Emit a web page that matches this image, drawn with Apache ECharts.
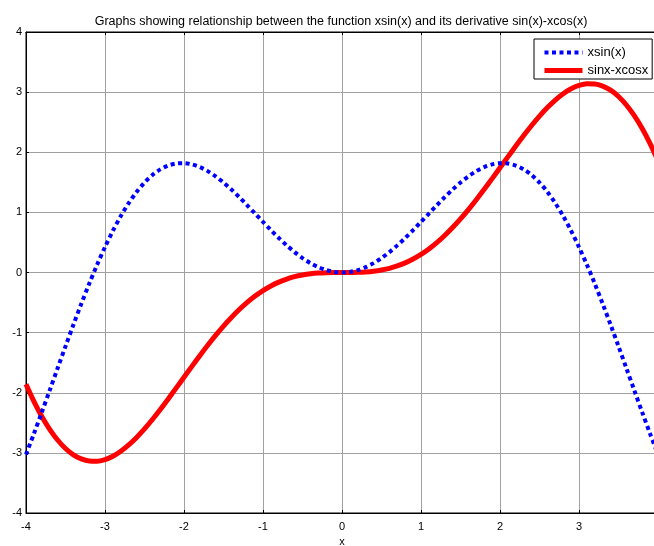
<!DOCTYPE html>
<html>
<head>
<meta charset="utf-8">
<script src="https://cdn.jsdelivr.net/npm/echarts@6/dist/echarts.min.js"></script>
<style>
html,body{margin:0;padding:0;background:#fff;}
#chart{width:654px;height:546px;}
</style>
</head>
<body>
<div id="chart"></div>
<script>
var titleText = 'Graphs showing relationship between the function xsin(x) and its derivative sin(x)-xcos(x)';
var seriesNames = ['xsin(x)', 'sinx-xcosx'];
var xTicks = [-4, -3, -2, -1, 0, 1, 2, 3];
var yTicks = [-4, -3, -2, -1, 0, 1, 2, 3, 4];

var xValues = [
  -4.0, -3.9, -3.8, -3.7, -3.6, -3.5, -3.4, -3.3, -3.2, -3.1,
  -3.0, -2.9, -2.8, -2.7, -2.6, -2.5, -2.4, -2.3, -2.2, -2.1,
  -2.0, -1.9, -1.8, -1.7, -1.6, -1.5, -1.4, -1.3, -1.2, -1.1,
  -1.0, -0.9, -0.8, -0.7, -0.6, -0.5, -0.4, -0.3, -0.2, -0.1,
   0.0,
   0.1,  0.2,  0.3,  0.4,  0.5,  0.6,  0.7,  0.8,  0.9,  1.0,
   1.1,  1.2,  1.3,  1.4,  1.5,  1.6,  1.7,  1.8,  1.9,  2.0,
   2.1,  2.2,  2.3,  2.4,  2.5,  2.6,  2.7,  2.8,  2.9,  3.0,
   3.1,  3.2,  3.3,  3.4,  3.5,  3.6,  3.7,  3.8,  3.9,  4.0
];
var xsinValues = [
  -3.027, -2.682, -2.325, -1.960, -1.593, -1.228, -0.869, -0.521, -0.187, 0.129,
   0.423,  0.694,  0.938,  1.154,  1.340,  1.496,  1.621,  1.715,  1.779, 1.813,
   1.819,  1.798,  1.753,  1.686,  1.599,  1.496,  1.380,  1.253,  1.118, 0.980,
   0.842,  0.705,  0.574,  0.451,  0.339,  0.240,  0.156,  0.089,  0.040, 0.010,
   0.000,
   0.010,  0.040,  0.089,  0.156,  0.240,  0.339,  0.451,  0.574,  0.705, 0.842,
   0.980,  1.118,  1.253,  1.380,  1.496,  1.599,  1.686,  1.753,  1.798, 1.819,
   1.813,  1.779,  1.715,  1.621,  1.496,  1.340,  1.154,  0.938,  0.694, 0.423,
   0.129, -0.187, -0.521, -0.869, -1.228, -1.593, -1.960, -2.325, -2.682, -3.027
];
var derivValues = [
  -1.858, -2.143, -2.394, -2.608, -2.786, -2.927, -3.032, -3.101, -3.136, -3.139,
  -3.111, -3.055, -2.973, -2.868, -2.743, -2.601, -2.445, -2.278, -2.103, -1.923,
  -1.742, -1.561, -1.383, -1.211, -1.046, -0.891, -0.748, -0.616, -0.497, -0.392,
  -0.301, -0.224, -0.160, -0.109, -0.069, -0.041, -0.021, -0.009, -0.003, -0.000,
   0.000,
   0.000,  0.003,  0.009,  0.021,  0.041,  0.069,  0.109,  0.160,  0.224,  0.301,
   0.392,  0.497,  0.616,  0.748,  0.891,  1.046,  1.211,  1.383,  1.561,  1.742,
   1.923,  2.103,  2.278,  2.445,  2.601,  2.743,  2.868,  2.973,  3.055,  3.111,
   3.139,  3.136,  3.101,  3.032,  2.927,  2.786,  2.608,  2.394,  2.143,  1.858
];

function pairs(xs, ys) {
  var out = [];
  for (var i = 0; i < xs.length; i++) out.push([xs[i], ys[i]]);
  return out;
}

var FONT = '"Liberation Sans", Arial, sans-serif';
var chart = echarts.init(document.getElementById('chart'), null, {renderer: 'canvas'});

var option = {
  animation: false,
  backgroundColor: '#fff',
  title: {
    text: titleText,
    left: 336,
    textAlign: 'center',
    top: 10,
    textStyle: {fontFamily: FONT, fontSize: 12.5, fontWeight: 'normal', color: '#000'}
  },
  legend: {
    orient: 'vertical',
    left: 534,
    top: 39,
    padding: [7, 4, 2, 8],
    itemGap: 5,
    itemWidth: 38,
    itemHeight: 14,
    borderColor: '#000',
    borderWidth: 1,
    borderRadius: 0,
    backgroundColor: '#fff',
    itemStyle: {opacity: 0},
    lineStyle: {width: 'inherit', type: 'inherit'},
    textStyle: {fontFamily: FONT, fontSize: 13, color: '#000'},
    data: seriesNames
  },
  grid: {
    left: 26, top: 32, width: 632, height: 481,
    outerBoundsMode: 'none',
    containLabel: false,
    show: true, borderColor: '#000', borderWidth: 1, backgroundColor: '#fff'
  },
  xAxis: [{
    type: 'value',
    min: -4,
    max: 4,
    interval: 1,
    name: 'x',
    nameLocation: 'middle',
    nameGap: 23,
    nameTextStyle: {fontFamily: FONT, fontSize: 11, color: '#000'},
    axisLine: {show: true, onZero: false, lineStyle: {color: '#000', width: 1}},
    axisTick: {show: true, inside: true, length: 3, lineStyle: {color: '#000'}},
    axisLabel: {
      fontFamily: FONT, fontSize: 11, color: '#000', margin: 8,
      showMaxLabel: false,
      formatter: function (v) { return xTicks.indexOf(v) >= 0 ? String(v) : ''; }
    },
    splitLine: {show: true, lineStyle: {color: '#a0a0a0', width: 1}}
  }, {
    type: 'value',
    position: 'top',
    min: -4,
    max: 4,
    interval: 1,
    axisLine: {show: true, onZero: false, lineStyle: {color: '#000', width: 1}},
    axisTick: {show: true, inside: true, length: 3, lineStyle: {color: '#000'}},
    axisLabel: {show: false},
    splitLine: {show: false}
  }],
  yAxis: [{
    type: 'value',
    min: -4,
    max: 4,
    interval: 1,
    axisLine: {show: true, onZero: false, lineStyle: {color: '#000', width: 1}},
    axisTick: {show: true, inside: true, length: 3, lineStyle: {color: '#000'}},
    axisLabel: {
      fontFamily: FONT, fontSize: 11, color: '#000', margin: 4,
      formatter: function (v) { return yTicks.indexOf(v) >= 0 ? String(v) : ''; }
    },
    splitLine: {show: true, lineStyle: {color: '#a0a0a0', width: 1}}
  }],
  series: [{
    name: seriesNames[0],
    type: 'line',
    data: pairs(xValues, xsinValues),
    smooth: 0.3,
    showSymbol: false,
    symbol: 'none',
    color: '#0000ff',
    lineStyle: {color: '#0000ff', width: 4, type: [4, 3.5], cap: 'butt'},
    z: 3
  }, {
    name: seriesNames[1],
    type: 'line',
    data: pairs(xValues, derivValues),
    smooth: 0.3,
    showSymbol: false,
    symbol: 'none',
    color: '#ff0000',
    lineStyle: {color: '#ff0000', width: 5, type: 'solid'},
    z: 2
  }]
};
chart.setOption(option);
</script>
</body>
</html>
